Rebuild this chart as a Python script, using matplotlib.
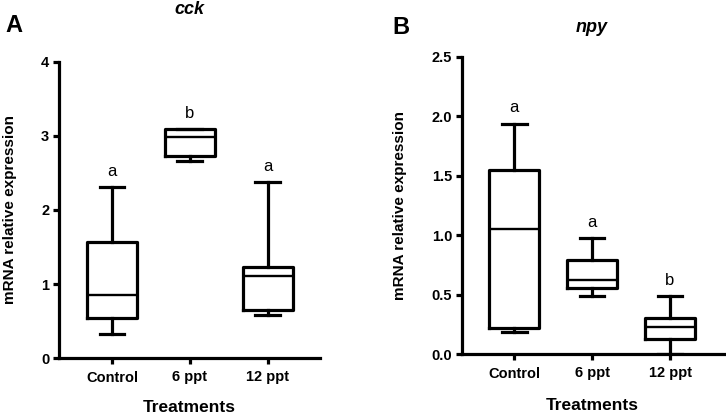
import matplotlib.pyplot as plt

plt.rcParams['font.family'] = ['Liberation Sans', 'DejaVu Sans']

# グループ
groups = ['Control', '6 ppt', '12 ppt']

# cck の箱ひげ図の値
cck_lo = [0.32, 2.66, 0.58]
cck_q1 = [0.54, 2.73, 0.65]
cck_med = [0.845, 2.99, 1.11]
cck_q3 = [1.57, 3.09, 1.23]
cck_hi = [2.31, 3.09, 2.38]
cck_letters = ['a', 'b', 'a']

# npy の箱ひげ図の値
npy_lo = [0.185, 0.485, 0.0]
npy_q1 = [0.22, 0.553, 0.13]
npy_med = [1.05, 0.626, 0.227]
npy_q3 = [1.55, 0.79, 0.30]
npy_hi = [1.94, 0.974, 0.49]
npy_letters = ['a', 'a', 'b']


def make_stats(lo, q1, med, q3, hi):
    return [dict(whislo=a, q1=b, med=c, q3=d, whishi=e, fliers=[])
            for a, b, c, d, e in zip(lo, q1, med, q3, hi)]


def draw_panel(ax, stats, his, letters, ylim, yticks, yfmt):
    lw = 2.3
    ax.bxp(stats, positions=[1, 2, 3], widths=0.64, capwidths=0.32,
           showfliers=False,
           boxprops=dict(color='black', linewidth=lw),
           whiskerprops=dict(color='black', linewidth=lw),
           capprops=dict(color='black', linewidth=lw),
           medianprops=dict(color='black', linewidth=1.7))
    for x, h, t in zip([1, 2, 3], his, letters):
        ax.annotate(t, (x, h), xytext=(0, 8), textcoords='offset points',
                    ha='center', va='baseline', fontsize=12)
    ax.set_ylim(*ylim)
    ax.set_yticks(yticks)
    ax.set_yticklabels([yfmt.format(v) for v in yticks])
    ax.set_xticks([1, 2, 3])
    ax.set_xticklabels(groups)
    for s in ['top', 'right']:
        ax.spines[s].set_visible(False)
    for s in ['left', 'bottom']:
        ax.spines[s].set_linewidth(lw)
    ax.tick_params(width=lw, length=4, labelsize=10.5)
    ax.tick_params(axis='x', pad=5)
    ax.tick_params(axis='y', pad=3)
    for lab in ax.get_xticklabels() + ax.get_yticklabels():
        lab.set_fontweight('bold')


fig = plt.figure(figsize=(7.26, 4.16), dpi=100)
ax1 = fig.add_axes([59 / 726, 58 / 416, 261 / 726, 296 / 416])
ax2 = fig.add_axes([462 / 726, 62 / 416, 263 / 726, 297 / 416])

draw_panel(ax1, make_stats(cck_lo, cck_q1, cck_med, cck_q3, cck_hi),
           cck_hi, cck_letters, (0, 4), [0, 1, 2, 3, 4], '{:.0f}')
ax1.set_xlim(0.32, 3.67)
draw_panel(ax2, make_stats(npy_lo, npy_q1, npy_med, npy_q3, npy_hi),
           npy_hi, npy_letters, (0, 2.5), [0, 0.5, 1.0, 1.5, 2.0, 2.5], '{:.1f}')
ax2.set_xlim(0.333, 3.705)

# ラベル類
W, H = 726, 416
fig.text(14 / W, 1 - 26 / H, 'A', fontsize=17, fontweight='bold', ha='center', va='center')
fig.text(401 / W, 1 - 27 / H, 'B', fontsize=17, fontweight='bold', ha='center', va='center')
fig.text(189 / W, 1 - 10 / H, 'cck', fontsize=13, fontweight='bold', style='italic', ha='center', va='center')
fig.text(592 / W, 1 - 27 / H, 'npy', fontsize=13, fontweight='bold', style='italic', ha='center', va='center')
fig.text(189 / W, 1 - 408 / H, 'Treatments', fontsize=12.5, fontweight='bold', ha='center', va='center')
fig.text(592 / W, 1 - 405 / H, 'Treatments', fontsize=12.5, fontweight='bold', ha='center', va='center')
fig.text(10 / W, 1 - 210 / H, 'mRNA relative expression', fontsize=11, fontweight='bold',
         rotation=90, ha='center', va='center')
fig.text(400 / W, 1 - 205 / H, 'mRNA relative expression', fontsize=11, fontweight='bold',
         rotation=90, ha='center', va='center')

fig.savefig('out.png', dpi=100)
